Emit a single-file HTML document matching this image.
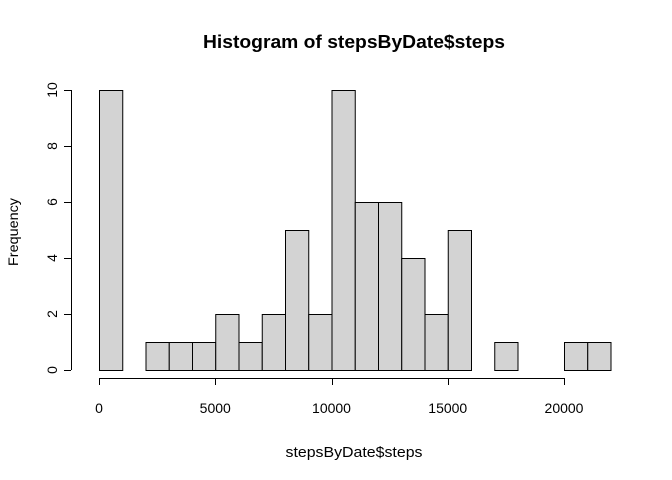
<!DOCTYPE html>
<html><head><meta charset="utf-8"><style>
html,body{margin:0;padding:0;background:#fff;}
svg{display:block;font-family:"Liberation Sans",Arial,sans-serif;}
</style></head><body>
<svg id="chart" width="672" height="480">
<text x="354" y="48" text-anchor="middle" font-size="18" font-weight="bold" textLength="302" lengthAdjust="spacingAndGlyphs">Histogram of stepsByDate$steps</text>
<text x="354" y="457" text-anchor="middle" font-size="14.5" textLength="137" lengthAdjust="spacingAndGlyphs">stepsByDate$steps</text>
<text transform="translate(18,232) rotate(-90)" text-anchor="middle" font-size="14" textLength="68" lengthAdjust="spacingAndGlyphs">Frequency</text>
<g id="bars"></g><g id="xaxis"></g><g id="yaxis"></g>
</svg>
<script>
const binStarts = [0,1000,2000,3000,4000,5000,6000,7000,8000,9000,10000,11000,12000,13000,14000,15000,16000,17000,18000,19000,20000,21000];
const counts = [10,0,1,1,1,2,1,2,5,2,10,6,6,4,2,5,0,1,0,0,1,1];
const binWidth = 1000;
const xTicks = [0,5000,10000,15000,20000];
const yTicks = [0,2,4,6,8,10];
const NS = "http://www.w3.org/2000/svg";
function sx(v){return 99 + v*(564-99)/20000;}
function sy(v){return 370 - v*28;}
function mk(tag, attrs, parent){const e=document.createElementNS(NS,tag);for(const k in attrs)e.setAttribute(k,attrs[k]);parent.appendChild(e);return e;}
const bars=document.getElementById('bars');
binStarts.forEach((b,i)=>{
  if(counts[i]<=0) return;
  const r=mk('rect',{x:sx(b)+0.5,y:sy(counts[i])+0.5,width:sx(b+binWidth)-sx(b),height:sy(0)-sy(counts[i]),fill:'#d3d3d3',stroke:'#000','stroke-width':1},bars);
  
  
});
const xa=document.getElementById('xaxis');


mk('line',{x1:sx(xTicks[0]),x2:sx(xTicks[xTicks.length-1]),y1:378.5,y2:378.5,stroke:'#000'},xa);
xTicks.forEach(t=>{
  mk('line',{x1:Math.round(sx(t))+0.5,x2:Math.round(sx(t))+0.5,y1:378,y2:385,stroke:'#000'},xa);
  const tx=mk('text',{x:sx(t),y:413,'text-anchor':'middle','font-size':14},xa);
  tx.textContent=t;
  
  
});
const ya=document.getElementById('yaxis');


mk('line',{x1:71.5,x2:71.5,y1:sy(yTicks[0]),y2:sy(yTicks[yTicks.length-1]),stroke:'#000'},ya);
yTicks.forEach(t=>{
  mk('line',{x1:64,x2:71,y1:sy(t)+0.5,y2:sy(t)+0.5,stroke:'#000'},ya);
  const tx=mk('text',{transform:`translate(57,${sy(t)}) rotate(-90)`,'text-anchor':'middle','font-size':14},ya);
  tx.textContent=t;
  
  
});
</script>
</body></html>
